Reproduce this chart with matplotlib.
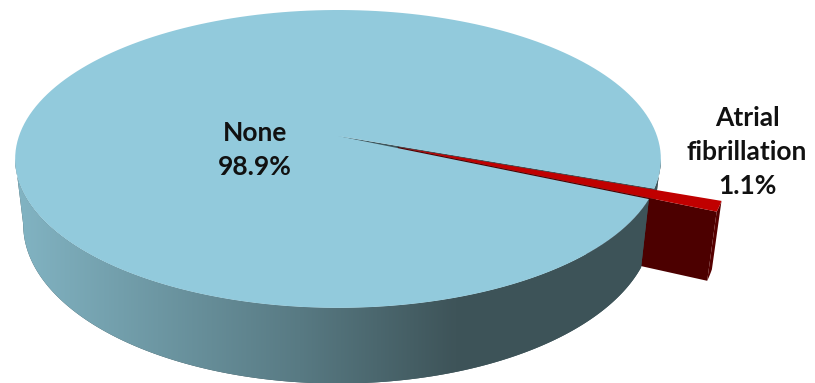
import numpy as np
import matplotlib.pyplot as plt
from matplotlib.patches import Polygon
from matplotlib.colors import LinearSegmentedColormap

labels = ["None", "Atrial\nfibrillation"]
shares = [98.9, 1.1]
explode = [0.0, 0.2]
label_pos = [(255, 150), (747, 152)]

top_colors = ["#92cadc", "#c00000"]
cut_colors = ["#3e565c", "#4c0000"]
wall_stops = [(0.0, "#82b4c3"), (0.44, "#587a83"), (0.68, "#3e5459"), (1.0, "#3d5358")]
red_wall = "#560000"

# 3d pie geometry in pixel units (excel-like perspective)
cx, cy = 338, 136
rx = 319
k, p = 145.4, 0.154
depth = 64
shrink = 0.975
start = -24  # degrees, slices go clockwise


def proj(u, v, bottom=False):
    d = 1 + p * v
    x = cx + rx * u / d
    y = cy - k * v / d
    if bottom:
        x = cx + (x - cx) * shrink
        y = y + depth / d
    return x, y


def rim(ta, tb, off, n=200):
    t = np.radians(np.linspace(ta, tb, n))
    return np.cos(t) + off[0], np.sin(t) + off[1]


def top_poly(ta, tb, off):
    u, v = rim(ta, tb, off)
    x, y = proj(np.r_[off[0], u], np.r_[off[1], v])
    return np.c_[x, y]


def side_poly(ta, tb, off):
    u, v = rim(ta, tb, off)
    xt, yt = proj(u, v)
    xb, yb = proj(u[::-1], v[::-1], bottom=True)
    return np.c_[np.r_[xt, xb], np.r_[yt, yb]]


def cut_poly(t, off):
    u = np.array([off[0], np.cos(np.radians(t)) + off[0]])
    v = np.array([off[1], np.sin(np.radians(t)) + off[1]])
    xt, yt = proj(u, v)
    xb, yb = proj(u[::-1], v[::-1], bottom=True)
    return np.c_[np.r_[xt, xb], np.r_[yt, yb]]


# slice angles
angles = []
t0 = start
for s in shares:
    t1 = t0 - 360 * s / 100
    angles.append((t0, t1))
    t0 = t1

offsets = []
for (a, b), e in zip(angles, explode):
    tm = np.radians((a + b) / 2)
    offsets.append((e * np.cos(tm), e * np.sin(tm)))

# visible front part of the wall
sil = np.degrees(np.arcsin(p))
front = (-180 + sil, -sil)


def front_parts(a, b):
    parts = []
    for sh in (-720, -360, 0, 360):
        lo = max(b, front[0] + sh)
        hi = min(a, front[1] + sh)
        if hi > lo:
            parts.append((hi, lo))
    return parts


fig = plt.figure(figsize=(8.15, 3.83), dpi=100)
ax = fig.add_axes([0, 0, 1, 1])

grad = np.linspace(0, 1, 256).reshape(1, -1)
cmap = LinearSegmentedColormap.from_list("wall", wall_stops)


def blue_wall(hi, lo, z):
    patch = Polygon(side_poly(hi, lo, offsets[0]), closed=True,
                    fc=wall_stops[-1][1], lw=0, zorder=z)
    ax.add_patch(patch)
    im = ax.imshow(grad, cmap=cmap, extent=[15, 662, 390, 140],
                   aspect="auto", zorder=z + 0.1, interpolation="bilinear")
    im.set_clip_path(patch)


(ba, bb), (ra, rb) = angles

# blue cut face seen through the gap
ax.add_patch(Polygon(cut_poly(bb, offsets[0]), closed=True, fc=cut_colors[0], lw=0, zorder=1))

# blue wall: the short piece next to the red slice sits behind it
for hi, lo in front_parts(ba, bb):
    blue_wall(hi, lo, 1.5 if lo == bb else 4)

# red slice faces
ax.add_patch(Polygon(cut_poly(rb, offsets[1]), closed=True, fc=cut_colors[1], lw=0, zorder=2))
for hi, lo in front_parts(ra, rb):
    ax.add_patch(Polygon(side_poly(hi, lo, offsets[1]), closed=True,
                         fc=red_wall, lw=0, zorder=3))

# tops
ax.add_patch(Polygon(top_poly(ba, bb, offsets[0]), closed=True, fc=top_colors[0], lw=0, zorder=5))
ax.add_patch(Polygon(top_poly(ra, rb, offsets[1]), closed=True, fc=top_colors[1], lw=0, zorder=6))

for lab, s, (x, y) in zip(labels, shares, label_pos):
    ax.text(x, y, f"{lab}\n{s}%", ha="center", va="center", fontsize=19,
            fontweight="bold", family="Lato", color="#111111",
            linespacing=1.5, zorder=10)

ax.set_xlim(0, 815)
ax.set_ylim(383, 0)
ax.axis("off")

fig.savefig("out.png", dpi=100)
